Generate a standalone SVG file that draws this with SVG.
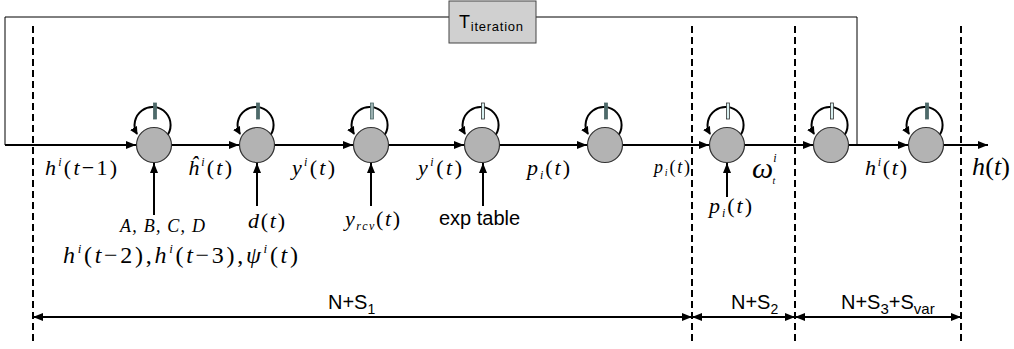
<svg xmlns="http://www.w3.org/2000/svg" width="1014" height="349" viewBox="0 0 1014 349">
<defs>
<marker id="ah" markerWidth="10" markerHeight="8" refX="10" refY="4" orient="auto" markerUnits="userSpaceOnUse"><path d="M0,0 L10,4 L0,8 Z" fill="#000"/></marker>
<marker id="ahs" markerWidth="8" markerHeight="8" refX="7" refY="4" orient="auto" markerUnits="userSpaceOnUse"><path d="M0,0 L8,4 L0,8 Z" fill="#000"/></marker>
<marker id="as" markerWidth="10" markerHeight="8" refX="0" refY="4" orient="auto" markerUnits="userSpaceOnUse"><path d="M10,0 L0,4 L10,8 Z" fill="#000"/></marker>
</defs>
<style>
.node{fill:#b3b3b3;stroke:#333;stroke-width:1.2}
.ln{stroke:#000;stroke-width:2;fill:none}
.thin{stroke:#000;stroke-width:1;fill:none}
.dash{stroke:#000;stroke-width:2;stroke-dasharray:7,4;fill:none}
.loop{stroke:#000;stroke-width:2;fill:none}
.bd{fill:#4e6a6a;stroke:#4e6a6a;stroke-width:0.8}
.bl{fill:#d8f0f0;stroke:#333;stroke-width:0.8}
.m{font-family:"Liberation Serif",serif;font-style:italic;fill:#000}
.u{font-style:normal}
.s{font-family:"Liberation Sans",Arial,sans-serif;fill:#000}
</style>
<g id="connectors">
<polyline class="thin" points="5,145 5,17 449,17"/>
<polyline class="thin" points="536,17 857,17 857,145"/>
<line class="ln" x1="5" y1="145" x2="136" y2="145" marker-end="url(#ah)"/>
<line class="ln" x1="172" y1="145" x2="239" y2="145" marker-end="url(#ah)"/>
<line class="ln" x1="275" y1="145" x2="353" y2="145" marker-end="url(#ah)"/>
<line class="ln" x1="389" y1="145" x2="464" y2="145" marker-end="url(#ah)"/>
<line class="ln" x1="500" y1="145" x2="587" y2="145" marker-end="url(#ah)"/>
<line class="ln" x1="623" y1="145" x2="709" y2="145" marker-end="url(#ah)"/>
<line class="ln" x1="745" y1="145" x2="813" y2="145" marker-end="url(#ah)"/>
<line class="ln" x1="849" y1="145" x2="908" y2="145" marker-end="url(#ah)"/>
<line class="ln" x1="944" y1="145" x2="988" y2="145" marker-end="url(#ah)"/>
<line class="ln" x1="154" y1="215" x2="154" y2="163" marker-end="url(#ah)"/>
<line class="ln" x1="257" y1="206" x2="257" y2="163" marker-end="url(#ah)"/>
<line class="ln" x1="371" y1="206" x2="371" y2="163" marker-end="url(#ah)"/>
<line class="ln" x1="483" y1="206" x2="483" y2="163" marker-end="url(#ah)"/>
<line class="ln" x1="727" y1="197" x2="727" y2="163" marker-end="url(#ah)"/>
<line class="dash" x1="33" y1="26" x2="33" y2="342"/>
<line class="dash" x1="692" y1="26" x2="692" y2="342"/>
<line class="dash" x1="795" y1="26" x2="795" y2="342"/>
<line class="dash" x1="961" y1="26" x2="961" y2="342"/>
<line class="ln" x1="33" y1="317" x2="692" y2="317" marker-start="url(#as)" marker-end="url(#ah)"/>
<line class="ln" x1="692" y1="317" x2="795" y2="317" marker-start="url(#as)" marker-end="url(#ah)"/>
<line class="ln" x1="795" y1="317" x2="961" y2="317" marker-start="url(#as)" marker-end="url(#ah)"/>
</g>
<g id="t-iteration">
<rect x="449" y="1" width="87" height="42" fill="#d0d0d0" stroke="#444" stroke-width="1"/>
<text class="s" x="459" y="28" font-size="18" textLength="64" lengthAdjust="spacing">T<tspan font-size="13" dy="3">iteration</tspan></text>
</g>
<g id="n1"><path class="loop" d="M166,137 A18,18 0 1 0 137,134" marker-end="url(#ahs)"/><rect class="bd" x="153.5" y="103" width="3" height="16"/><circle class="node" cx="154" cy="145" r="17.5"/></g>
<g id="n2"><path class="loop" d="M269,137 A18,18 0 1 0 240,134" marker-end="url(#ahs)"/><rect class="bd" x="256.5" y="103" width="3" height="16"/><circle class="node" cx="257" cy="145" r="17.5"/></g>
<g id="n3"><path class="loop" d="M383,137 A18,18 0 1 0 354,134" marker-end="url(#ahs)"/><rect class="bd" x="370.5" y="103" width="3" height="16" style="fill:#9ab0b0"/><circle class="node" cx="371" cy="145" r="17.5"/></g>
<g id="n4"><path class="loop" d="M494,137 A18,18 0 1 0 465,134" marker-end="url(#ahs)"/><rect class="bl" x="481.5" y="103" width="3" height="16"/><circle class="node" cx="482" cy="145" r="17.5"/></g>
<g id="n5"><path class="loop" d="M617,137 A18,18 0 1 0 588,134" marker-end="url(#ahs)"/><rect class="bd" x="604.5" y="103" width="3" height="16"/><circle class="node" cx="605" cy="145" r="17.5"/></g>
<g id="n6"><path class="loop" d="M739,137 A18,18 0 1 0 710,134" marker-end="url(#ahs)"/><rect class="bl" x="726.5" y="103" width="3" height="16"/><circle class="node" cx="727" cy="145" r="17.5"/></g>
<g id="n7"><path class="loop" d="M843,137 A18,18 0 1 0 814,134" marker-end="url(#ahs)"/><rect class="bl" x="830.5" y="103" width="3" height="16"/><circle class="node" cx="831" cy="145" r="17.5"/></g>
<g id="n8"><path class="loop" d="M938,137 A18,18 0 1 0 909,134" marker-end="url(#ahs)"/><rect class="bd" x="925.5" y="103" width="3" height="16"/><circle class="node" cx="926" cy="145" r="17.5"/></g>
<g id="labels">
<text class="m" x="45" y="175" font-size="22" textLength="72" lengthAdjust="spacing">h<tspan font-size="12" dy="-9">i</tspan><tspan class="u" dy="9">(</tspan>t<tspan class="u">−1)</tspan></text>
<text class="m" x="188" y="175" font-size="22" textLength="44" lengthAdjust="spacing">ĥ<tspan font-size="12" dy="-9">i</tspan><tspan class="u" dy="9">(</tspan>t<tspan class="u">)</tspan></text>
<text class="m" x="292" y="175" font-size="22" textLength="43" lengthAdjust="spacing">y<tspan font-size="12" dy="-9">i</tspan><tspan class="u" dy="9">(</tspan>t<tspan class="u">)</tspan></text>
<text class="m" x="418" y="175" font-size="22" textLength="44" lengthAdjust="spacing">y<tspan font-size="12" dy="-9">i</tspan><tspan class="u" dy="9">(</tspan>t<tspan class="u">)</tspan></text>
<text class="m" x="527" y="175" font-size="22" textLength="43" lengthAdjust="spacing">p<tspan font-size="12" dy="4">i</tspan><tspan class="u" dy="-4">(</tspan>t<tspan class="u">)</tspan></text>
<text class="m" x="654" y="173" font-size="18" textLength="36" lengthAdjust="spacing">p<tspan font-size="10" dy="3">i</tspan><tspan class="u" dy="-3">(</tspan>t<tspan class="u">)</tspan></text>
<text class="m" x="752" y="178" font-size="30">ω<tspan font-size="12" dy="-16">i</tspan><tspan font-size="10" dy="22" dx="-4">t</tspan></text>
<text class="m" x="865" y="175" font-size="22" textLength="42" lengthAdjust="spacing">h<tspan font-size="12" dy="-9">i</tspan><tspan class="u" dy="9">(</tspan>t<tspan class="u">)</tspan></text>
<text class="m" x="972" y="175" font-size="26" textLength="38" lengthAdjust="spacing">h<tspan class="u">(</tspan>t<tspan class="u">)</tspan></text>
<text class="m" x="120" y="232" font-size="18" textLength="85" lengthAdjust="spacing">A, B, C, D</text>
<text class="m" x="63" y="263" font-size="24" textLength="235" lengthAdjust="spacing">h<tspan font-size="13" dy="-10">i</tspan><tspan class="u" dy="10">(</tspan>t<tspan class="u">−2),</tspan>h<tspan font-size="13" dy="-10">i</tspan><tspan class="u" dy="10">(</tspan>t<tspan class="u">−3),</tspan>ψ<tspan font-size="13" dy="-10">i</tspan><tspan class="u" dy="10">(</tspan>t<tspan class="u">)</tspan></text>
<text class="m" x="248" y="228" font-size="22" textLength="37" lengthAdjust="spacing">d<tspan class="u">(</tspan>t<tspan class="u">)</tspan></text>
<text class="m" x="345" y="226" font-size="22" textLength="55" lengthAdjust="spacing">y<tspan font-size="12" dy="4">rcv</tspan><tspan class="u" dy="-4">(</tspan>t<tspan class="u">)</tspan></text>
<text class="s" x="439" y="225" font-size="20">exp table</text>
<text class="m" x="709" y="213" font-size="22" textLength="43" lengthAdjust="spacing">p<tspan font-size="12" dy="4">i</tspan><tspan class="u" dy="-4">(</tspan>t<tspan class="u">)</tspan></text>
<text class="s" x="328" y="309" font-size="20">N+S<tspan font-size="14" dy="5">1</tspan></text>
<text class="s" x="731" y="309" font-size="20">N+S<tspan font-size="14" dy="5">2</tspan></text>
<text class="s" x="841" y="309" font-size="20">N+S<tspan font-size="15" dy="5">3</tspan><tspan dy="-5">+S</tspan><tspan font-size="15" dy="5">var</tspan></text>
</g>
</svg>
